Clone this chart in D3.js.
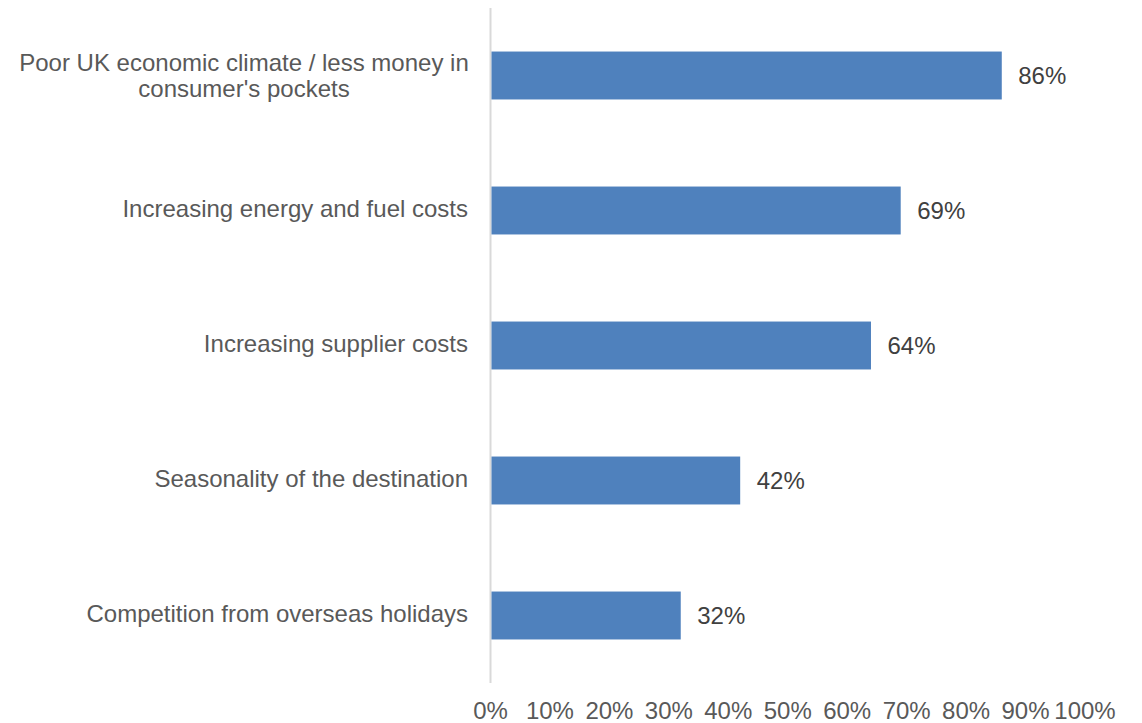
<!DOCTYPE html>
<html>
<head>
<meta charset="utf-8">
<script src="https://cdn.jsdelivr.net/npm/d3@7"></script>
<style>
  html, body { margin: 0; padding: 0; background: #fff; }
  svg { display: block; font-family: "Liberation Sans", Arial, sans-serif; }
</style>
</head>
<body>
<svg id="chart" width="1142" height="723"></svg>
<script>
// Factors affecting business, share of respondents
const categories = [
  ["Poor UK economic climate / less money in", "consumer's pockets"],
  ["Increasing energy and fuel costs"],
  ["Increasing supplier costs"],
  ["Seasonality of the destination"],
  ["Competition from overseas holidays"]
];
const values = [86, 69, 64, 42, 32];
const tickValues = [0, 10, 20, 30, 40, 50, 60, 70, 80, 90, 100];

const svg = d3.select("#chart");
const textColor = "#595959";
const fontSize = 24;

const x = d3.scaleLinear().domain([0, 100]).range([490.5, 1085]);
const y = d3.scaleBand()
  .domain(d3.range(categories.length))
  .range([8, 683])
  .paddingInner(0)
  .paddingOuter(0);

const barH = y.bandwidth() * 0.355;

// vertical category axis line
svg.append("line")
  .attr("x1", x(0)).attr("x2", x(0))
  .attr("y1", y.range()[0]).attr("y2", y.range()[1])
  .attr("stroke", "#d9d9d9").attr("stroke-width", 2);

// bars
svg.selectAll("rect.bar")
  .data(values)
  .enter().append("rect")
  .attr("class", "bar")
  .attr("x", x(0) + 1)
  .attr("y", (d, i) => y(i) + y.bandwidth() / 2 - barH / 2)
  .attr("width", d => x(d) - x(0) - 1)
  .attr("height", barH)
  .attr("fill", "#4f81bd");

// value labels
svg.selectAll("text.val")
  .data(values)
  .enter().append("text")
  .attr("class", "val")
  .attr("x", d => x(d) + 16.5)
  .attr("y", (d, i) => y(i) + y.bandwidth() / 2)
  .attr("dy", "0.35em")
  .attr("font-size", fontSize)
  .attr("fill", "#404040")
  .text(d => d + "%");

// category labels
const lineH = 26.5;
const cat = svg.selectAll("text.cat")
  .data(categories)
  .enter().append("text")
  .attr("class", "cat")
  .attr("font-size", fontSize)
  .attr("fill", textColor)
  .attr("transform", (d, i) => {
    const cy = y(i) + y.bandwidth() / 2 + (d.length > 1 ? 0 : -1.5);
    return `translate(0,${cy})`;
  });

cat.each(function(lines) {
  const t = d3.select(this);
  // multi-line labels are centred as a block, single lines right-aligned
  if (lines.length > 1) {
    t.attr("text-anchor", "middle");
    lines.forEach((ln, k) => {
      t.append("tspan")
        .attr("x", 244)
        .attr("y", (k - (lines.length - 1) / 2) * lineH)
        .attr("dy", "0.35em")
        .text(ln);
    });
  } else {
    t.attr("text-anchor", "end");
    t.append("tspan")
      .attr("x", 468)
      .attr("y", 0)
      .attr("dy", "0.35em")
      .text(lines[0]);
  }
});

// bottom tick labels
svg.selectAll("text.tick")
  .data(tickValues)
  .enter().append("text")
  .attr("class", "tick")
  .attr("x", d => x(d))
  .attr("y", 719)
  .attr("text-anchor", "middle")
  .attr("font-size", fontSize)
  .attr("fill", textColor)
  .text(d => d + "%");
</script>
</body>
</html>
